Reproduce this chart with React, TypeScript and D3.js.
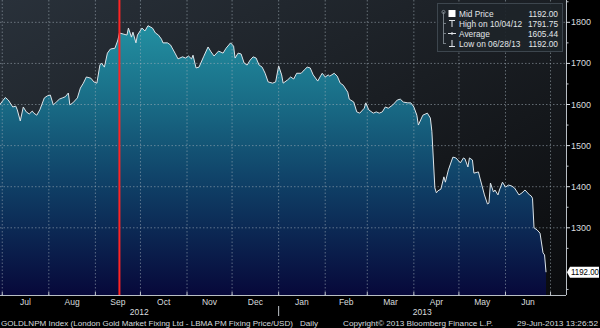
import React from "react";
import * as d3 from "d3";

const dates = [
  "2012-06-29","2012-07-03","2012-07-05","2012-07-08","2012-07-10","2012-07-11","2012-07-13","2012-07-15",
  "2012-07-17","2012-07-19","2012-07-21","2012-07-22","2012-07-24","2012-07-26","2012-07-29","2012-07-31",
  "2012-08-02","2012-08-04","2012-08-06","2012-08-08","2012-08-10","2012-08-12","2012-08-14","2012-08-15",
  "2012-08-17","2012-08-20","2012-08-22","2012-08-24","2012-08-26","2012-08-29","2012-08-31","2012-09-02",
  "2012-09-04","2012-09-05","2012-09-07","2012-09-09","2012-09-11","2012-09-14","2012-09-16","2012-09-17",
  "2012-09-20","2012-09-22","2012-09-23","2012-09-25","2012-09-26","2012-09-28","2012-09-29","2012-10-02",
  "2012-10-04","2012-10-06","2012-10-09","2012-10-11","2012-10-13","2012-10-15","2012-10-16","2012-10-19",
  "2012-10-21","2012-10-24","2012-10-26","2012-10-29","2012-10-31","2012-11-02","2012-11-04","2012-11-05",
  "2012-11-07","2012-11-09","2012-11-12","2012-11-15","2012-11-17","2012-11-19","2012-11-22","2012-11-25",
  "2012-11-27","2012-11-30","2012-12-02","2012-12-03","2012-12-05","2012-12-07","2012-12-09","2012-12-11",
  "2012-12-13","2012-12-15","2012-12-17","2012-12-19","2012-12-21","2012-12-23","2012-12-25","2012-12-28",
  "2012-12-30","2013-01-01","2013-01-03","2013-01-04","2013-01-07","2013-01-09","2013-01-11","2013-01-13",
  "2013-01-16","2013-01-18","2013-01-20","2013-01-22","2013-01-24","2013-01-27","2013-01-29","2013-01-30",
  "2013-02-01","2013-02-03","2013-02-04","2013-02-07","2013-02-09","2013-02-11","2013-02-13","2013-02-16",
  "2013-02-17","2013-02-20","2013-02-22","2013-02-24","2013-02-27","2013-02-28","2013-03-02","2013-03-05",
  "2013-03-07","2013-03-09","2013-03-11","2013-03-13","2013-03-15","2013-03-18","2013-03-21","2013-03-23",
  "2013-03-25","2013-03-28","2013-03-30","2013-04-01","2013-04-03","2013-04-04","2013-04-07","2013-04-10",
  "2013-04-12","2013-04-13","2013-04-15","2013-04-16","2013-04-17","2013-04-19","2013-04-21","2013-04-22",
  "2013-04-24","2013-04-27","2013-04-29","2013-05-02","2013-05-04","2013-05-05","2013-05-07","2013-05-08",
  "2013-05-10","2013-05-11","2013-05-14","2013-05-15","2013-05-18","2013-05-20","2013-05-21","2013-05-22",
  "2013-05-24","2013-05-25","2013-05-27","2013-05-28","2013-05-30","2013-06-01","2013-06-03","2013-06-05",
  "2013-06-07","2013-06-10","2013-06-12","2013-06-14","2013-06-17","2013-06-18","2013-06-19","2013-06-20",
  "2013-06-22","2013-06-24","2013-06-26","2013-06-27","2013-06-28"
];

const prices = [
  1598,1617,1611,1594,1596,1587,1560,1594,
  1582,1577,1584,1579,1574,1587,1616,1621,
  1623,1599,1606,1613,1616,1619,1628,1599,
  1604,1616,1640,1652,1667,1664,1655,1652,
  1696,1701,1691,1725,1735,1737,1757,1774,
  1771,1769,1786,1764,1776,1750,1769,1786,
  1779,1791.75,1786,1774,1769,1759,1750,1750,
  1745,1725,1711,1716,1713,1718,1711,1720,
  1689,1691,1716,1740,1728,1718,1730,1725,
  1737,1750,1742,1713,1725,1723,1701,1696,
  1708,1716,1713,1696,1691,1676,1655,1652,
  1655,1694,1672,1652,1660,1667,1662,1676,
  1676,1684,1691,1689,1672,1657,1670,1676,
  1667,1672,1669,1676,1669,1652,1647,1630,
  1613,1606,1582,1579,1591,1604,1587,1579,
  1582,1579,1582,1594,1591,1599,1611,1613,
  1606,1604,1604,1594,1574,1550,1574,1579,
  1567,1535,1397,1385,1390,1394,1424,1411,
  1441,1472,1470,1458,1470,1468,1448,1470,
  1465,1433,1436,1421,1380,1358,1360,1409,
  1387,1392,1380,1392,1411,1399,1404,1402,
  1397,1380,1385,1392,1380,1378,1372,1300,
  1295,1287,1239,1234,1192
];

const domainDates = ["2012-06-29T12:00", "2013-07-11T07:00"];
const priceDomain = [1136.5, 1854.3];
const majorTicks = [1300, 1400, 1500, 1600, 1700, 1800];
const minorTicks = [1150, 1250, 1350, 1450, 1550, 1650, 1750, 1850];
const markerDate = "2012-09-17";
const lastValueLabel = "1192.00";

const legendLabels = ["Mid Price", "High on 10/04/12", "Average", "Low on 06/28/13"];
const legendValues = ["1192.00", "1791.75", "1605.44", "1192.00"];

const footerTexts = [
  "GOLDLNPM Index (London Gold Market Fixing Ltd - LBMA PM Fixing Price/USD)",
  "Daily",
  "Copyright\u00A9 2013 Bloomberg Finance L.P.",
  "29-Jun-2013 13:26:52",
];

const W = 600;
const H = 328;
const plotW = 566;
const plotH = 295;
const FONT = "'Liberation Sans', Arial, sans-serif";

export default function App() {
  const parse = d3.timeParse("%Y-%m-%d");
  const parseT = d3.timeParse("%Y-%m-%dT%H:%M");
  const data = dates.map((d, i) => ({ date: parse(d) as Date, value: prices[i] }));

  const x = d3
    .scaleTime()
    .domain([parseT(domainDates[0]) as Date, parseT(domainDates[1]) as Date])
    .range([0, plotW]);
  const y = d3.scaleLinear().domain(priceDomain).range([plotH, 0]);

  const area = d3
    .area<{ date: Date; value: number }>()
    .x((d) => x(d.date))
    .y0(plotH)
    .y1((d) => y(d.value));
  const line = d3
    .line<{ date: Date; value: number }>()
    .x((d) => x(d.date))
    .y((d) => y(d.value));

  const [d0, d1] = x.domain();
  const months = d3.timeMonth.range(d3.timeMonth.ceil(d0), d1);
  const monthFmt = d3.timeFormat("%b");
  const years = d3.timeYear.range(d3.timeYear.floor(d0), d1);
  const yearBounds = years.map((yr) => {
    const s = Math.max(0, x(yr));
    const e = Math.min(plotW, x(d3.timeYear.offset(yr, 1)));
    return { yr, mid: (s + e) / 2, start: x(yr) };
  });

  const footerX = [1, 300, 343, 517];
  const footerLen = [292, 18, 150, 81];

  const lastY = y(prices[prices.length - 1]);
  const markerX = x(parse(markerDate) as Date);

  return (
    <div style={{ position: "fixed", left: 0, top: 0, width: W, height: H }}>
      <svg width={W} height={H} style={{ display: "block", background: "#000" }}>
        <defs>
          <linearGradient id="bg" x1="0" y1="0" x2="1" y2="1">
            <stop offset="0" stopColor="#29313a" />
            <stop offset="0.5" stopColor="#1a1e23" />
            <stop offset="1" stopColor="#0a0b0d" />
          </linearGradient>
          <linearGradient id="fill" gradientUnits="userSpaceOnUse" x1="0" y1="20" x2="0" y2={plotH}>
            <stop offset="0" stopColor="#2392a3" />
            <stop offset="0.3" stopColor="#196c86" />
            <stop offset="0.6" stopColor="#0f3f66" />
            <stop offset="1" stopColor="#07083a" />
          </linearGradient>
          <clipPath id="plotClip">
            <rect x={0} y={0} width={plotW} height={plotH} />
          </clipPath>
        </defs>

        <rect x={0} y={0} width={plotW} height={plotH} fill="url(#bg)" />

        <g clipPath="url(#plotClip)">
          <path d={area(data) || ""} fill="url(#fill)" />
          {months.map((m, i) => (
            <line
              key={"vg" + i}
              x1={x(m)}
              x2={x(m)}
              y1={0}
              y2={plotH}
              stroke="#a4b0ba"
              strokeOpacity={0.6}
              strokeDasharray="1.5,2"
              strokeWidth={0.9}
            />
          ))}
          {majorTicks.map((t) => (
            <line
              key={"hg" + t}
              x1={0}
              x2={plotW}
              y1={y(t)}
              y2={y(t)}
              stroke="#a4b0ba"
              strokeOpacity={0.6}
              strokeDasharray="1.5,2"
              strokeWidth={0.9}
            />
          ))}
          <path d={line(data) || ""} fill="none" stroke="#dde5ea" strokeWidth={1} />
          <line x1={markerX} x2={markerX} y1={0} y2={plotH} stroke="#ff2424" strokeWidth={2} />
        </g>

        {/* axes */}
        <line x1={plotW + 0.5} x2={plotW + 0.5} y1={0} y2={plotH} stroke="#b8bec4" strokeWidth={1} />
        <line x1={0} x2={plotW} y1={plotH + 0.5} y2={plotH + 0.5} stroke="#b8bec4" strokeWidth={1} />
        {majorTicks.map((t) => (
          <g key={"yt" + t}>
            <line x1={plotW} x2={plotW + 4} y1={y(t)} y2={y(t)} stroke="#d8dde2" strokeWidth={1} />
            <text x={plotW + 5} y={y(t) + 3} fontSize={9} fill="#d8dcdf" fontFamily={FONT}>
              {t}
            </text>
          </g>
        ))}
        {minorTicks.map((t) => (
          <line key={"ym" + t} x1={plotW} x2={plotW + 2.5} y1={y(t)} y2={y(t)} stroke="#c0c6cc" strokeWidth={1} />
        ))}
        {months.map((m, i) => {
          const next = d3.timeMonth.offset(m, 1);
          const cx = (x(m) + Math.min(x(next), plotW + 40)) / 2;
          return (
            <g key={"xm" + i}>
              <line x1={x(m)} x2={x(m)} y1={plotH - 3} y2={plotH + 1} stroke="#c0c6cc" strokeWidth={1} />
              {x(next) <= plotW + 5 && (
                <text x={cx} y={304.5} fontSize={8.5} fill="#d8dcdf" textAnchor="middle" fontFamily={FONT}>
                  {monthFmt(m)}
                </text>
              )}
            </g>
          );
        })}
        {yearBounds.map((yb, i) => (
          <g key={"yr" + i}>
            <text x={yb.mid} y={315} fontSize={8.5} fill="#d8dcdf" textAnchor="middle" fontFamily={FONT}>
              {yb.yr.getFullYear()}
            </text>
            {yb.start > 0 && (
              <line x1={yb.start} x2={yb.start} y1={306} y2={316} stroke="#c0c6cc" strokeWidth={1} />
            )}
          </g>
        ))}

        {/* last value tag */}
        <path
          d={`M${plotW + 1},${lastY} L${plotW + 4},${lastY - 5.5} L${W - 1},${lastY - 5.5} L${W - 1},${lastY + 5.5} L${plotW + 4},${lastY + 5.5} Z`}
          fill="#ffffff"
        />
        <text
          x={plotW + 5}
          y={lastY + 3}
          fontSize={8.5}
          fill="#000"
          fontFamily={FONT}
          textLength={28}
          lengthAdjust="spacingAndGlyphs"
        >
          {lastValueLabel}
        </text>

        {/* legend */}
        <g>
          <rect x={437.5} y={3.5} width={125} height={48} fill="#1d2429" fillOpacity={0.92} stroke="#3d464e" />
          <line x1={443.5} x2={443.5} y1={12} y2={44} stroke="#8a949c" strokeWidth={0.8} />
          <circle cx={443.5} cy={12} r={1.6} fill="none" stroke="#8a949c" strokeWidth={0.8} />
          {legendLabels.map((lab, i) => {
            const cy = 13.5 + i * 10;
            return (
              <g key={"lg" + i}>
                {i > 0 && <line x1={443.5} x2={446} y1={cy} y2={cy} stroke="#8a949c" strokeWidth={0.8} />}
                {i === 0 && <rect x={448.5} y={cy - 3.5} width={7} height={7} fill="#ffffff" />}
                {i === 1 && (
                  <g stroke="#e0e4e8" strokeWidth={1}>
                    <line x1={449} x2={455} y1={cy - 3} y2={cy - 3} />
                    <line x1={452} x2={452} y1={cy - 3} y2={cy + 3.5} />
                  </g>
                )}
                {i === 2 && (
                  <g stroke="#e0e4e8" strokeWidth={1}>
                    <line x1={448} x2={456} y1={cy} y2={cy} />
                    <line x1={452} x2={452} y1={cy - 1.5} y2={cy + 1.5} />
                  </g>
                )}
                {i === 3 && (
                  <g stroke="#e0e4e8" strokeWidth={1}>
                    <line x1={449} x2={455} y1={cy + 3} y2={cy + 3} />
                    <line x1={452} x2={452} y1={cy - 3.5} y2={cy + 3} />
                  </g>
                )}
                <text x={459} y={cy + 3} fontSize={8.3} fill="#e2e6e9" fontFamily={FONT}>
                  {lab}
                </text>
                <text x={558} y={cy + 3} fontSize={8.3} fill="#e2e6e9" textAnchor="end" fontFamily={FONT}>
                  {legendValues[i]}
                </text>
              </g>
            );
          })}
        </g>

        {/* footer */}
        {footerTexts.map((t, i) => (
          <text
            key={"ft" + i}
            x={footerX[i]}
            y={326}
            fontSize={7.8}
            fill="#d8dcdf"
            fontFamily={FONT}
            textLength={footerLen[i]}
            lengthAdjust="spacingAndGlyphs"
          >
            {t}
          </text>
        ))}
      </svg>
    </div>
  );
}
